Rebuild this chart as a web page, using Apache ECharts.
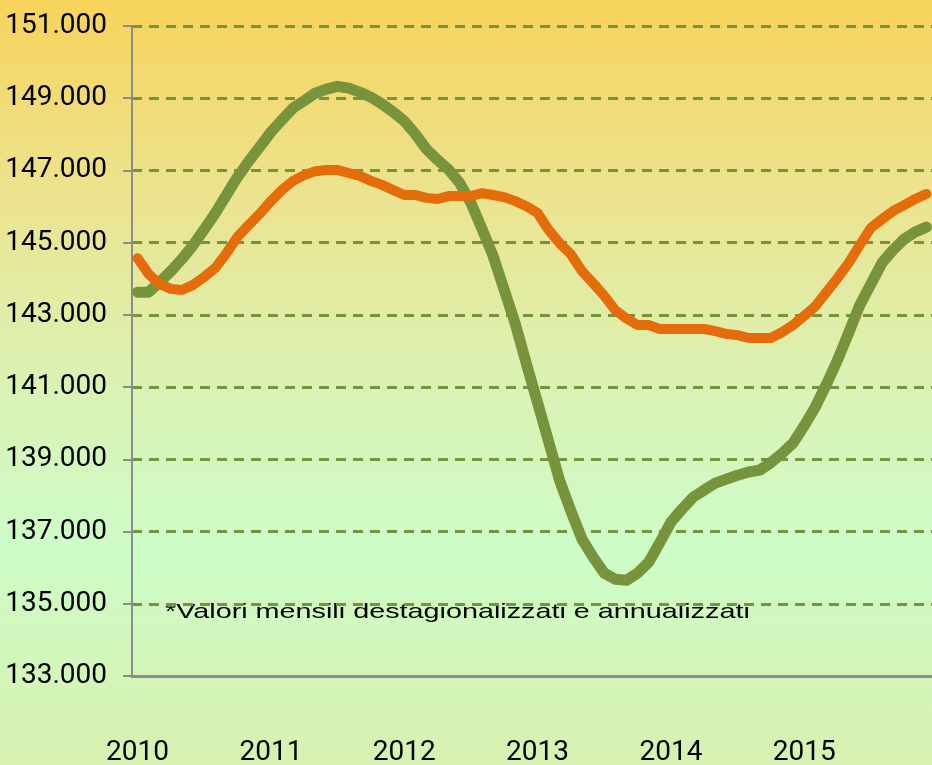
<!DOCTYPE html>
<html>
<head>
<meta charset="utf-8">
<script src="https://cdn.jsdelivr.net/npm/echarts@6/dist/echarts.min.js"></script>
<style>
  html, body { margin: 0; padding: 0; }
  #chart { width: 932px; height: 765px; }
</style>
</head>
<body>
<div id="chart"></div>
<script>
// anni sull'asse x (12 mesi ciascuno)
var years = ['2010', '2011', '2012', '2013', '2014', '2015'];

// serie verde
var greenValues = [
  143630, 143630, 143910, 144210, 144550, 144930, 145370, 145820, 146320, 146820, 147250, 147650,
  148060, 148400, 148730, 148930, 149140, 149250, 149330, 149280, 149170, 149030, 148840, 148620,
  148370, 148010, 147590, 147290, 147020, 146650, 146100, 145380, 144630, 143690, 142750, 141640,
  140570, 139490, 138400, 137570, 136790, 136290, 135850, 135680, 135650, 135850, 136150, 136690,
  137260, 137620, 137950, 138150, 138340, 138450, 138560, 138650, 138700, 138910, 139160, 139450,
  139930, 140450, 141080, 141750, 142500, 143270, 143850, 144440, 144800, 145100, 145300, 145430
];

// serie arancione
var orangeValues = [
  144570, 144130, 143850, 143720, 143690, 143830, 144050, 144300, 144710, 145160, 145490, 145800,
  146150, 146460, 146710, 146870, 146980, 147010, 147010, 146930, 146850, 146710, 146600, 146460,
  146320, 146320, 146240, 146210, 146290, 146290, 146290, 146370, 146320, 146260, 146150, 146010,
  145820, 145350, 144980, 144680, 144210, 143880, 143530, 143130, 142900, 142720, 142720, 142610,
  142610, 142610, 142610, 142610, 142550, 142470, 142440, 142360, 142360, 142360, 142520, 142720,
  142970, 143240, 143630, 144020, 144440, 144930, 145410, 145650, 145880, 146040, 146210, 146350
];

var note = '*Valori mensili destagionalizzati e annualizzati';

var months = [];
years.forEach(function(y){
  for (var m = 1; m <= 12; m++) {
    months.push(y + '-' + (m < 10 ? '0' + m : m));
  }
});

var myChart = echarts.init(document.getElementById('chart'));
var labelFont = 'Roboto, "Liberation Sans", sans-serif';

var option = {
  animation: false,
  backgroundColor: new echarts.graphic.LinearGradient(0, 0, 0, 1, [
    { offset: 0, color: '#f7d35b' },
    { offset: 0.25, color: '#ece38e' },
    { offset: 0.5, color: '#dbf2b4' },
    { offset: 0.72, color: '#cdfcc7' },
    { offset: 1, color: '#d8f1b0' }
  ]),
  grid: { left: 132, right: 0, top: 26, bottom: 89, outerBoundsMode: 'none' },
  graphic: [{
    type: 'text',
    z: -1,
    x: 165,
    y: 612,
    scaleX: 1.37,
    style: {
      text: note,
      fill: '#000',
      font: '21px "Liberation Sans", Arial, sans-serif',
      verticalAlign: 'middle'
    }
  }],
  xAxis: {
    type: 'category',
    data: months,
    boundaryGap: true,
    axisLine: { lineStyle: { color: '#8c8c8c', width: 3 } },
    axisTick: { interval: 0, length: 15, lineStyle: { color: '#8c8c8c', width: 2 } },
    axisLabel: {
      interval: function(idx){ return idx % 12 === 0; },
      formatter: function(v){ return v.slice(0, 4); },
      margin: 63,
      color: '#000',
      fontSize: 28,
      fontFamily: labelFont
    },
    splitLine: { show: false }
  },
  yAxis: {
    type: 'value',
    min: 133000,
    max: 151000,
    interval: 2000,
    axisLine: { show: true, lineStyle: { color: '#8c8c8c', width: 2 } },
    axisTick: { show: true, length: 9, lineStyle: { color: '#8c8c8c', width: 2 } },
    axisLabel: {
      formatter: function(v){ return (v / 1000).toFixed(3); },
      margin: 25,
      color: '#000',
      fontSize: 28,
      fontFamily: labelFont
    },
    splitLine: {
      lineStyle: { color: '#77933c', width: 3, type: [10, 7] }
    }
  },
  series: [
    {
      type: 'line',
      data: greenValues,
      symbol: 'none',
      lineStyle: { color: '#77933c', width: 11, cap: 'round', join: 'round' }
    },
    {
      type: 'line',
      data: orangeValues,
      symbol: 'none',
      lineStyle: { color: '#e46c0a', width: 10, cap: 'round', join: 'round' }
    }
  ]
};
option && myChart.setOption(option);
</script>
</body>
</html>
